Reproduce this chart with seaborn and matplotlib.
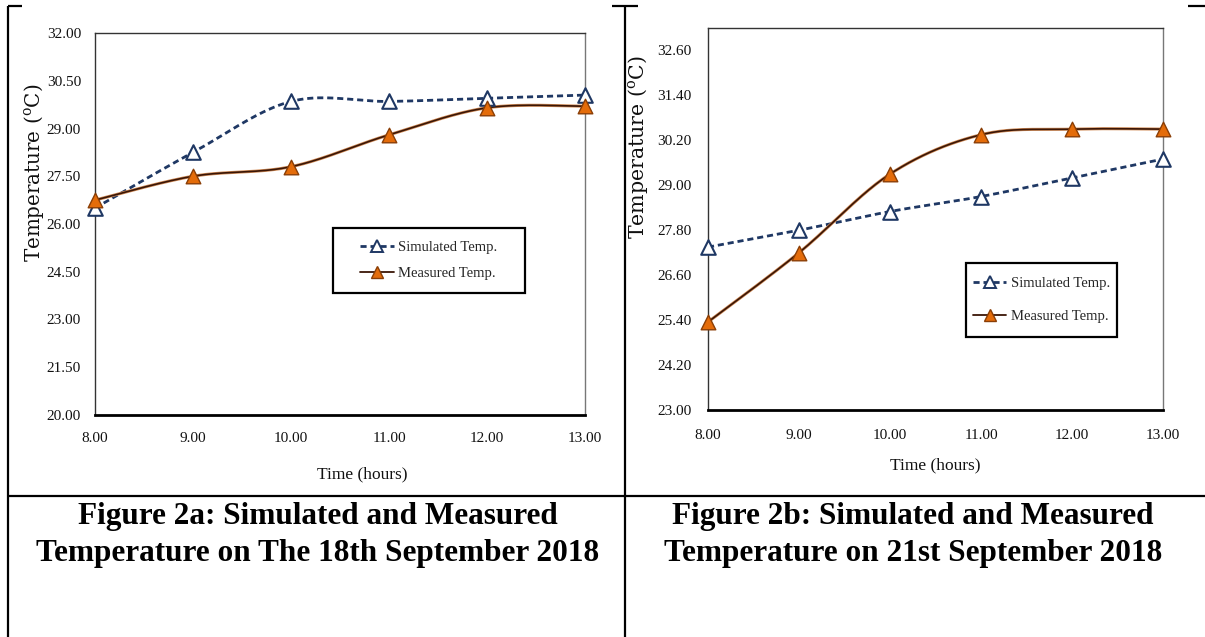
import numpy as np
import pandas as pd
import matplotlib
matplotlib.use("Agg")
import matplotlib.pyplot as plt
import seaborn as sns
from matplotlib.lines import Line2D
from matplotlib.patches import Rectangle
import matplotlib.patheffects as pe

# ---------------- data ----------------
hours = [8.0, 9.0, 10.0, 11.0, 12.0, 13.0]
hour_labels = ["8.00", "9.00", "10.00", "11.00", "12.00", "13.00"]

sim_a = [26.50, 28.25, 29.85, 29.85, 29.95, 30.05]
meas_a = [26.75, 27.50, 27.80, 28.80, 29.65, 29.70]
yticks_a = [20.00, 21.50, 23.00, 24.50, 26.00, 27.50, 29.00, 30.50, 32.00]

sim_b = [27.35, 27.80, 28.30, 28.70, 29.20, 29.70]
meas_b = [25.35, 27.20, 29.30, 30.35, 30.50, 30.50]
yticks_b = [23.00, 24.20, 25.40, 26.60, 27.80, 29.00, 30.20, 31.40, 32.60]

series_names = ["Simulated Temp.", "Measured Temp."]
captions = ["Figure 2a: Simulated and Measured\nTemperature on The 18th September 2018",
            "Figure 2b: Simulated and Measured\nTemperature on 21st September 2018"]

# ---------------- style ----------------
sns.set_theme(style="white")
plt.rcParams['font.family'] = ['Liberation Serif', 'DejaVu Serif']
plt.rcParams['mathtext.fontset'] = 'dejavuserif'

W, H = 1205, 637
fig = plt.figure(figsize=(W / 100, H / 100), dpi=100)
fig.patch.set_facecolor("white")

NAVY = "#1F3864"
ORANGE = "#E46C0A"
ORANGE_EDGE = "#8A3E06"
BROWN = "#3A1606"


def smooth(x, y, n=40):
    """Excel-like smoothed line (Bezier through points, 1/6 tangents)."""
    pts = np.column_stack([x, y]).astype(float)
    out = []
    for i in range(len(pts) - 1):
        p0 = pts[i - 1] if i > 0 else pts[i]
        p1, p2 = pts[i], pts[i + 1]
        p3 = pts[i + 2] if i + 2 < len(pts) else pts[i + 1]
        c1 = p1 + (p2 - p0) / 6.0
        c2 = p2 - (p3 - p1) / 6.0
        t = np.linspace(0, 1, n)[:, None]
        b = (1 - t) ** 3 * p1 + 3 * (1 - t) ** 2 * t * c1 + 3 * (1 - t) * t ** 2 * c2 + t ** 3 * p2
        out.append(b if i == 0 else b[1:])
    return np.vstack(out)


def px_axes(l, t, r, b):
    return fig.add_axes([l / W, 1 - b / H, (r - l) / W, (b - t) / H])


# background layout axes in pixel coordinates
bg = fig.add_axes([0, 0, 1, 1], zorder=-10)
bg.set_xlim(0, W)
bg.set_ylim(H, 0)
bg.axis("off")
lw_tab = 1.6
for (x0, y0, x1, y1) in [(8, 6, 8, H), (625, 6, 625, H), (8, 496, W, 496),
                         (8, 6, 22, 6), (612, 6, 638, 6), (1188, 6, W, 6)]:
    bg.plot([x0, x1], [y0, y1], color="black", lw=lw_tab, solid_capstyle="butt")


def draw_panel(ax, sim, meas, yticks, ylim, label_fs, xlab_pad, ylab_pad):
    sm_s = smooth(hours, sim)
    sm_m = smooth(hours, meas)
    df_s = pd.DataFrame({"x": sm_s[:, 0], "y": sm_s[:, 1]})
    df_m = pd.DataFrame({"x": sm_m[:, 0], "y": sm_m[:, 1]})
    sns.lineplot(data=df_s, x="x", y="y", ax=ax, sort=False, estimator=None,
                 color=NAVY, lw=2.0, linestyle=(0, (2.2, 1.4)), zorder=3)
    sns.lineplot(data=df_m, x="x", y="y", ax=ax, sort=False, estimator=None,
                 color=BROWN, lw=1.2, zorder=4,
                 path_effects=[pe.Stroke(linewidth=2.2, foreground="#D08A55"), pe.Normal()])
    sns.scatterplot(x=hours, y=sim, ax=ax, marker="^", s=110, facecolor="white",
                    edgecolor=NAVY, linewidth=1.5, zorder=5, clip_on=False)
    sns.scatterplot(x=hours, y=meas, ax=ax, marker="^", s=110, facecolor=ORANGE,
                    edgecolor=ORANGE_EDGE, linewidth=1.0, zorder=6, clip_on=False)
    ax.set_xlim(8, 13)
    ax.set_ylim(*ylim)
    ax.set_xticks(hours)
    ax.set_xticklabels(hour_labels)
    ax.set_yticks(yticks)
    ax.set_yticklabels([f"{v:.2f}" for v in yticks])
    ax.tick_params(axis="both", length=0, labelsize=11, colors="#111111")
    ax.tick_params(axis="x", pad=xlab_pad)
    ax.tick_params(axis="y", pad=ylab_pad)
    ax.set_xlabel("Time (hours)", fontsize=12.5, color="#111111")
    ax.set_ylabel(r"Temperature ($^{\mathrm{o}}$C)", fontsize=label_fs,
                  family="DejaVu Serif", color="#111111")
    for side in ["top", "right", "left"]:
        ax.spines[side].set_color("#333333")
        ax.spines[side].set_linewidth(1.0)
    ax.spines["right"].set_color("#777777")
    ax.spines["bottom"].set_color("black")
    ax.spines["bottom"].set_linewidth(2.0)
    ax.set_facecolor("white")
    ax.grid(False)


ax1 = px_axes(95, 33, 585, 415)
draw_panel(ax1, sim_a, meas_a, yticks_a, (20, 32), 14.3, 12, 10)
ax1.yaxis.set_label_coords(-0.10, 0.633)
ax1.xaxis.set_label_coords(0.545, -0.135)

ax2 = px_axes(708, 28, 1163, 410)
draw_panel(ax2, sim_b, meas_b, yticks_b, (23, 33.2), 14.8, 14, 12)
ax2.yaxis.set_label_coords(-0.127, 0.688)
ax2.xaxis.set_label_coords(0.5, -0.125)

handles = [
    Line2D([], [], color=NAVY, lw=2.0, linestyle=(0, (2.2, 1.4)), marker="^",
           markersize=9, markerfacecolor="white", markeredgecolor=NAVY, markeredgewidth=1.4),
    Line2D([], [], color=BROWN, lw=1.3, marker="^", markersize=9,
           markerfacecolor=ORANGE, markeredgecolor=ORANGE_EDGE),
]

# legend boxes (pixel coords) and legends
for (l, t, r, b, spacing) in [(333, 228, 525, 293, 0.9), (966, 263, 1117, 337, 1.4)]:
    fig.add_artist(Rectangle((l / W, 1 - b / H), (r - l) / W, (b - t) / H,
                             transform=fig.transFigure, facecolor="white",
                             edgecolor="black", lw=1.6, zorder=20))
    leg = fig.legend(handles, series_names, loc="center",
                     bbox_to_anchor=((l + r) / 2 / W, 1 - (t + b) / 2 / H),
                     bbox_transform=fig.transFigure, frameon=False,
                     fontsize=10.5, handlelength=2.3, handletextpad=0.3,
                     labelspacing=spacing, borderpad=0.2)
    leg.set_zorder(30)

# captions
bg.text(318, 535, captions[0], ha="center", va="center", fontsize=22.5,
        fontweight="bold", linespacing=1.35, color="black")
bg.text(913, 535, captions[1], ha="center", va="center", fontsize=22.5,
        fontweight="bold", linespacing=1.35, color="black")

fig.savefig("out.png", dpi=100, facecolor="white")
